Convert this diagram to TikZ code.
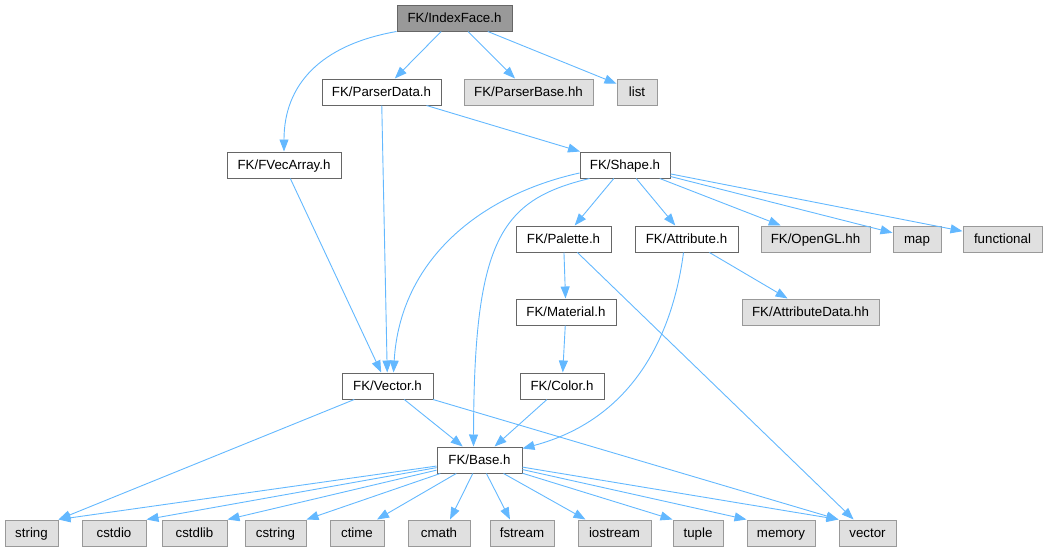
\documentclass[tikz,border=0pt]{standalone}
\usepackage{fontspec}
\setmainfont{Liberation Sans}
\usetikzlibrary{arrows.meta}
\definecolor{edgec}{HTML}{63B8FF}
\definecolor{bordc}{HTML}{666666}
\definecolor{extb}{HTML}{999999}
\definecolor{extf}{HTML}{E0E0E0}
\definecolor{rootf}{HTML}{999999}
\begin{document}
\begin{tikzpicture}[x=1pt,y=-1pt,
  font=\fontsize{13.3}{16}\selectfont,
  box/.style={draw=bordc, fill=white, line width=1pt, minimum height=26pt, inner xsep=0pt, inner ysep=0pt, text height=9.6pt, text depth=0.8pt, anchor=center},
  ext/.style={box, draw=extb, fill=extf},
  root/.style={box, draw=bordc, fill=rootf},
  edge/.style={draw=edgec, line width=0.9pt, -{Triangle[length=12pt,width=9pt]}}]
\useasboundingbox (0,0) rectangle (1047,552);
% nodes
\node[root, minimum width=115pt] (IndexFace) at (454.5,18) {FK/IndexFace.h};
\node[box, minimum width=119pt] (ParserData) at (381.5,92) {FK/ParserData.h};
\node[ext, minimum width=129pt] (ParserBase) at (528.5,92) {FK/ParserBase.hh};
\node[ext, minimum width=40pt] (list) at (637,92) {list};
\node[box, minimum width=114pt] (FVecArray) at (284,165) {FK/FVecArray.h};
\node[box, minimum width=90pt] (Shape) at (625,165) {FK/Shape.h};
\node[box, minimum width=95pt] (Palette) at (563.5,239) {FK/Palette.h};
\node[box, minimum width=103pt] (Attribute) at (686.5,239) {FK/Attribute.h};
\node[ext, minimum width=109pt] (OpenGL) at (815.5,239) {FK/OpenGL.hh};
\node[ext, minimum width=48pt] (map) at (917,239) {map};
\node[ext, minimum width=79pt] (functional) at (1002.5,239) {functional};
\node[ext, minimum width=137pt] (AttributeData) at (810.5,312) {FK/AttributeData.hh};
\node[box, minimum width=100pt] (Material) at (566,312) {FK/Material.h};
\node[box, minimum width=91pt] (Vector) at (387.5,386) {FK/Vector.h};
\node[box, minimum width=84pt] (Color) at (562,386) {FK/Color.h};
\node[box, minimum width=85pt] (Base) at (479.5,460) {FK/Base.h};
\node[ext, minimum width=53pt] (string) at (31.5,533) {string};
\node[ext, minimum width=64pt] (cstdio) at (114,533) {cstdio};
\node[ext, minimum width=65pt] (cstdlib) at (194.5,533) {cstdlib};
\node[ext, minimum width=61pt] (cstring) at (275.5,533) {cstring};
\node[ext, minimum width=54pt] (ctime) at (357,533) {ctime};
\node[ext, minimum width=62pt] (cmath) at (439,533) {cmath};
\node[ext, minimum width=64pt] (fstream) at (522,533) {fstream};
\node[ext, minimum width=73pt] (iostream) at (614.5,533) {iostream};
\node[ext, minimum width=50pt] (tuple) at (698,533) {tuple};
\node[ext, minimum width=68pt] (memory) at (781,533) {memory};
\node[ext, minimum width=57pt] (vector) at (867.5,533) {vector};
% edges from IndexFace
\draw[edge] (IndexFace.south west) .. controls (320,45) and (284,85) .. (FVecArray.north);
\draw[edge] (IndexFace) -- (ParserData);
\draw[edge] (IndexFace) -- (ParserBase);
\draw[edge] (IndexFace) -- (list);
% ParserData
\draw[edge] (ParserData) -- (Vector);
\draw[edge] (ParserData) -- (Shape);
% FVecArray
\draw[edge] (FVecArray) -- (Vector);
% Shape
\draw[edge] ([yshift=-8pt]Shape.west) .. controls (480,195) and (400,260) .. ([xshift=6pt]Vector.north);
\draw[edge] ([xshift=10pt]Shape.south west) .. controls (500,200) and (474,240) .. ([xshift=-6pt]Base.north);
\draw[edge] (Shape) -- (Palette);
\draw[edge] (Shape) -- (Attribute);
\draw[edge] (Shape) -- (OpenGL);
\draw[edge] (Shape) -- (map);
\draw[edge] (Shape) -- (functional);
% Palette
\draw[edge] (Palette) -- (Material);
\draw[edge] (Palette) -- (vector);
% Attribute
\draw[edge] ([xshift=-3pt]Attribute.south) .. controls (672,340) and (630,420) .. ([yshift=-2pt]Base.north east);
\draw[edge] (Attribute) -- (AttributeData);
% Material, Color
\draw[edge] (Material) -- (Color);
\draw[edge] (Color) -- (Base);
% Vector
\draw[edge] (Vector) -- (Base);
\draw[edge] (Vector) -- (string.north east);
\draw[edge] (Vector) -- (vector.north west);
% Base fan
\draw[edge] (Base) -- (string.north east);
\draw[edge] (Base) -- (cstdio.north east);
\draw[edge] (Base) -- (cstdlib.north east);
\draw[edge] (Base) -- (cstring.north east);
\draw[edge] (Base) -- ([xshift=20pt]ctime.north);
\draw[edge] (Base) -- ([xshift=11pt]cmath.north);
\draw[edge] (Base) -- ([xshift=-12pt]fstream.north);
\draw[edge] (Base) -- ([xshift=-29pt]iostream.north);
\draw[edge] (Base) -- (tuple.north west);
\draw[edge] (Base) -- (memory.north west);
\draw[edge] (Base) -- (vector.north west);
\end{tikzpicture}
\end{document}
